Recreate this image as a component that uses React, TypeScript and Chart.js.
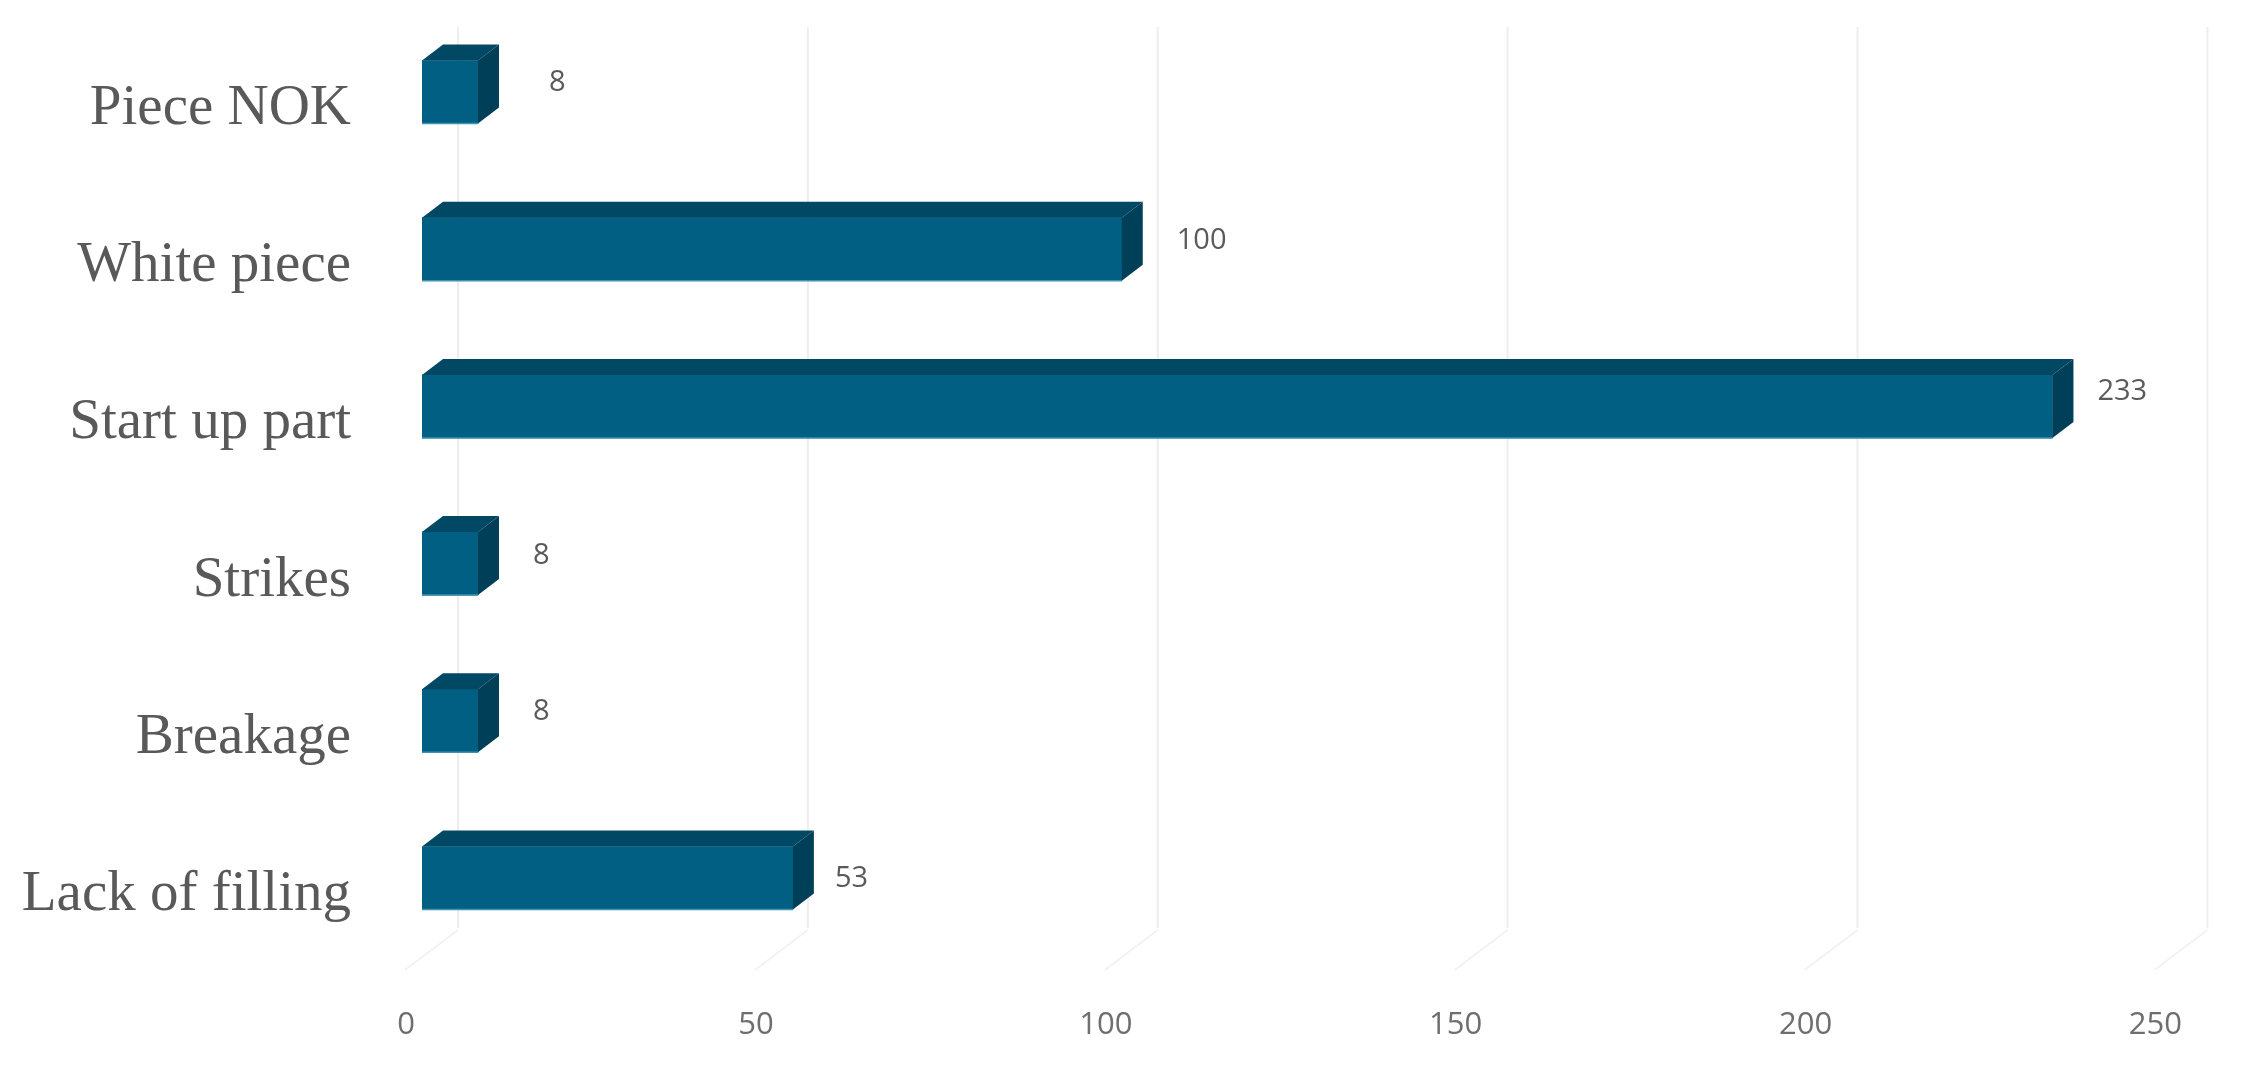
import React, { useEffect, useRef } from "react";
import { Chart, registerables } from "chart.js";

Chart.register(...registerables);

const categories = ["Piece NOK", "White piece", "Start up part", "Strikes", "Breakage", "Lack of filling"];
const values = [8, 100, 233, 8, 8, 53];
const xTicks = [0, 50, 100, 150, 200, 250];

const DX = 21;
const DY = 16;
const GRID_DX = 36;
const labelNudges = [
  [50, -9],
  [34, -8],
  [24, -15],
  [34, -8],
  [34, -9],
  [21, 1],
];

const FRONT = "#005f82";
const DARK_TOP = "#004864";
const DARK_SIDE = "#003f58";
const EDGE = "#3d93b0";

const poly = (ctx: CanvasRenderingContext2D, pts: number[][], fill: string) => {
  ctx.beginPath();
  pts.forEach((p, i) => (i ? ctx.lineTo(p[0], p[1]) : ctx.moveTo(p[0], p[1])));
  ctx.closePath();
  ctx.fillStyle = fill;
  ctx.fill();
};

const boxPlugin = {
  id: "box3d",
  beforeDatasetsDraw(chart: any) {
    const { ctx, scales } = chart;
    const x = scales.x;
    ctx.save();
    ctx.lineWidth = 2;
    x.ticks.forEach((t: any) => {
      const px = x.getPixelForValue(t.value) + GRID_DX;
      ctx.strokeStyle = "#eeeeee";
      ctx.beginPath();
      ctx.moveTo(px, 27);
      ctx.lineTo(px, 928);
      ctx.stroke();
      ctx.strokeStyle = "#f2f2f2";
      ctx.beginPath();
      ctx.moveTo(px, 930);
      ctx.lineTo(px - 53, 970);
      ctx.stroke();
    });
    ctx.restore();
  },
  afterDatasetsDraw(chart: any) {
    const { ctx } = chart;
    const meta = chart.getDatasetMeta(0);
    ctx.save();
    meta.data.forEach((bar: any, i: number) => {
      const { x, y, base, height } = bar;
      const top = y - height / 2;
      const bottom = y + height / 2;
      poly(ctx, [[base, top], [base + DX, top - DY], [x + DX, top - DY], [x, top]], DARK_TOP);
      poly(ctx, [[x, top], [x + DX, top - DY], [x + DX, bottom - DY], [x, bottom]], DARK_SIDE);
      ctx.strokeStyle = EDGE;
      ctx.lineWidth = 1.5;
      ctx.beginPath();
      ctx.moveTo(base, bottom);
      ctx.lineTo(x, bottom);
      ctx.stroke();
      const [gap, dy] = labelNudges[i];
      ctx.font = "29px 'Open Sans'";
      ctx.fillStyle = "#5a5a5a";
      ctx.textAlign = "left";
      ctx.textBaseline = "middle";
      ctx.fillText(String(values[i]), x + DX + gap, y + dy);
    });
    ctx.restore();
  },
};

export default function App() {
  const ref = useRef<HTMLCanvasElement>(null);
  useEffect(() => {
    const chart = new Chart(ref.current as HTMLCanvasElement, {
      type: "bar",
      data: {
        labels: categories,
        datasets: [{ data: values, backgroundColor: FRONT, barThickness: 63, borderWidth: 0 }],
      },
      options: {
        indexAxis: "y",
        animation: false,
        responsive: false,
        layout: { padding: { top: 13.4, right: 76, left: 0, bottom: 0 } },
        plugins: { legend: { display: false }, tooltip: { enabled: false } },
        scales: {
          x: {
            min: 0,
            max: 250,
            afterBuildTicks(scale: any) {
              scale.ticks = xTicks.map((value) => ({ value }));
            },
            afterFit(scale: any) {
              scale.height = 110.4;
            },
            grid: { display: false, drawTicks: false },
            border: { display: false },
            ticks: {
              padding: 50,
              labelOffset: -16,
              maxRotation: 0,
              autoSkip: false,
              color: "#6e6e6e",
              font: { family: "'Open Sans'", size: 31 },
            },
          },
          y: {
            afterFit(scale: any) {
              scale.width = 422;
              scale.paddingTop = 0;
              scale.paddingBottom = 0;
            },
            grid: { display: false, drawTicks: false },
            border: { display: false },
            ticks: {
              padding: 71,
              labelOffset: 17,
              autoSkip: false,
              color: "#595959",
              font: { family: "'Liberation Serif'", size: 57 },
            },
          },
        },
      },
      plugins: [boxPlugin],
    } as any);
    return () => chart.destroy();
  }, []);
  return (
    <canvas
      ref={ref}
      width={2248}
      height={1067}
      style={{ position: "absolute", left: 0, top: 0, display: "block" }}
    />
  );
}
